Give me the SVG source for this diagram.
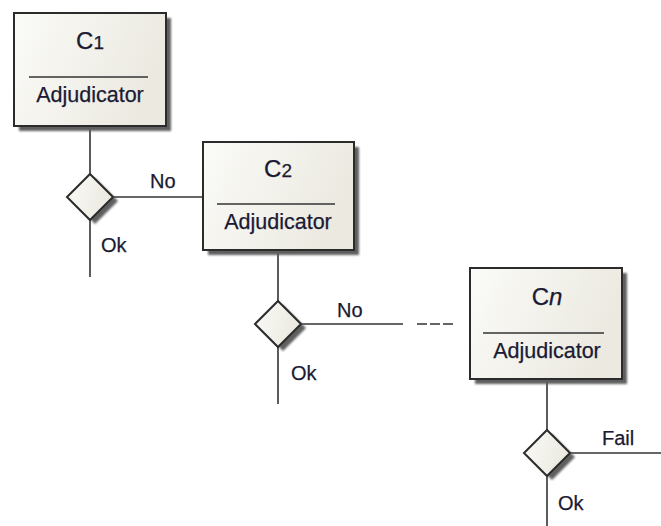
<svg xmlns="http://www.w3.org/2000/svg" width="661" height="526" viewBox="0 0 661 526">
  <defs>
    <linearGradient id="boxFill" x1="0" y1="0" x2="1" y2="0.3">
      <stop offset="0" stop-color="#fbfbf8"/>
      <stop offset="1" stop-color="#ebe9e0"/>
    </linearGradient>
    <filter id="shadow" x="-10%" y="-10%" width="130%" height="130%">
      <feGaussianBlur stdDeviation="1.3"/>
    </filter>
    <style>
      .box { fill: url(#boxFill); stroke: #2b2b2b; stroke-width: 2; }
      .shade { fill: #5e5e5e; filter: url(#shadow); }
      .rule { stroke: #333; stroke-width: 1.6; }
      .wire { stroke: #333; stroke-width: 1.6; fill: none; }
      .lbl { font-family: "Liberation Sans", Arial, sans-serif; fill: #1a1a33; stroke: #1a1a33; stroke-width: 0.25; }
      .name { font-size: 24px; }
      .sub { font-size: 19px; }
      .role { font-size: 21.5px; }
      .edge { font-size: 20px; }
    </style>
  </defs>

  <!-- connectors -->
  <g id="connectors">
    <line class="wire" x1="90" y1="126" x2="90" y2="174"/>
    <line class="wire" x1="90" y1="220" x2="90" y2="277"/>
    <line class="wire" x1="114" y1="197" x2="203" y2="197"/>
    <line class="wire" x1="278" y1="250" x2="278" y2="301"/>
    <line class="wire" x1="278" y1="347" x2="278" y2="404"/>
    <line class="wire" x1="302" y1="324" x2="403" y2="324"/>
    <line class="wire" x1="417" y1="324" x2="453" y2="324" stroke-dasharray="10 3"/>
    <line class="wire" x1="547" y1="379" x2="547" y2="430"/>
    <line class="wire" x1="547" y1="476" x2="547" y2="526"/>
    <line class="wire" x1="570" y1="453" x2="661" y2="453"/>
    <text class="lbl edge" x="150" y="188">No</text>
    <text class="lbl edge" x="101" y="252">Ok</text>
    <text class="lbl edge" x="337" y="317">No</text>
    <text class="lbl edge" x="291" y="380">Ok</text>
    <text class="lbl edge" x="602" y="445">Fail</text>
    <text class="lbl edge" x="558" y="510">Ok</text>
  </g>

  <!-- component C1 -->
  <g id="c1">
    <rect class="shade" x="19" y="18" width="152" height="113"/>
    <rect class="box" x="14" y="13" width="152" height="113"/>
    <line class="rule" x1="29" y1="77" x2="148" y2="77"/>
    <text class="lbl" x="90" y="49" text-anchor="middle"><tspan class="name">C</tspan><tspan class="sub">1</tspan></text>
    <text class="lbl role" x="90" y="102" text-anchor="middle">Adjudicator</text>
  </g>

  <!-- decision 1 -->
  <g id="d1">
    <polygon class="shade" points="95,178 118,201 95,224 72,201"/>
    <polygon class="box" points="90,174 113,197 90,220 67,197"/>
  </g>

  <!-- component C2 -->
  <g id="c2">
    <rect class="shade" x="208" y="147" width="151" height="108"/>
    <rect class="box" x="203" y="142" width="151" height="108"/>
    <line class="rule" x1="217" y1="204" x2="335" y2="204"/>
    <text class="lbl" x="278" y="177" text-anchor="middle"><tspan class="name">C</tspan><tspan class="sub">2</tspan></text>
    <text class="lbl role" x="278" y="229" text-anchor="middle">Adjudicator</text>
  </g>

  <!-- decision 2 -->
  <g id="d2">
    <polygon class="shade" points="283,305 306,328 283,351 260,328"/>
    <polygon class="box" points="278,301 301,324 278,347 255,324"/>
  </g>

  <!-- component Cn -->
  <g id="cn">
    <rect class="shade" x="475" y="273" width="152" height="111"/>
    <rect class="box" x="470" y="268" width="152" height="111"/>
    <line class="rule" x1="483" y1="333" x2="604" y2="333"/>
    <text class="lbl" x="547" y="305" text-anchor="middle"><tspan class="name">C</tspan><tspan class="name" font-style="italic" font-size="22px">n</tspan></text>
    <text class="lbl role" x="547" y="358" text-anchor="middle">Adjudicator</text>
  </g>

  <!-- decision n -->
  <g id="dn">
    <polygon class="shade" points="552,434 575,457 552,480 529,457"/>
    <polygon class="box" points="547,430 570,453 547,476 524,453"/>
  </g>
</svg>
